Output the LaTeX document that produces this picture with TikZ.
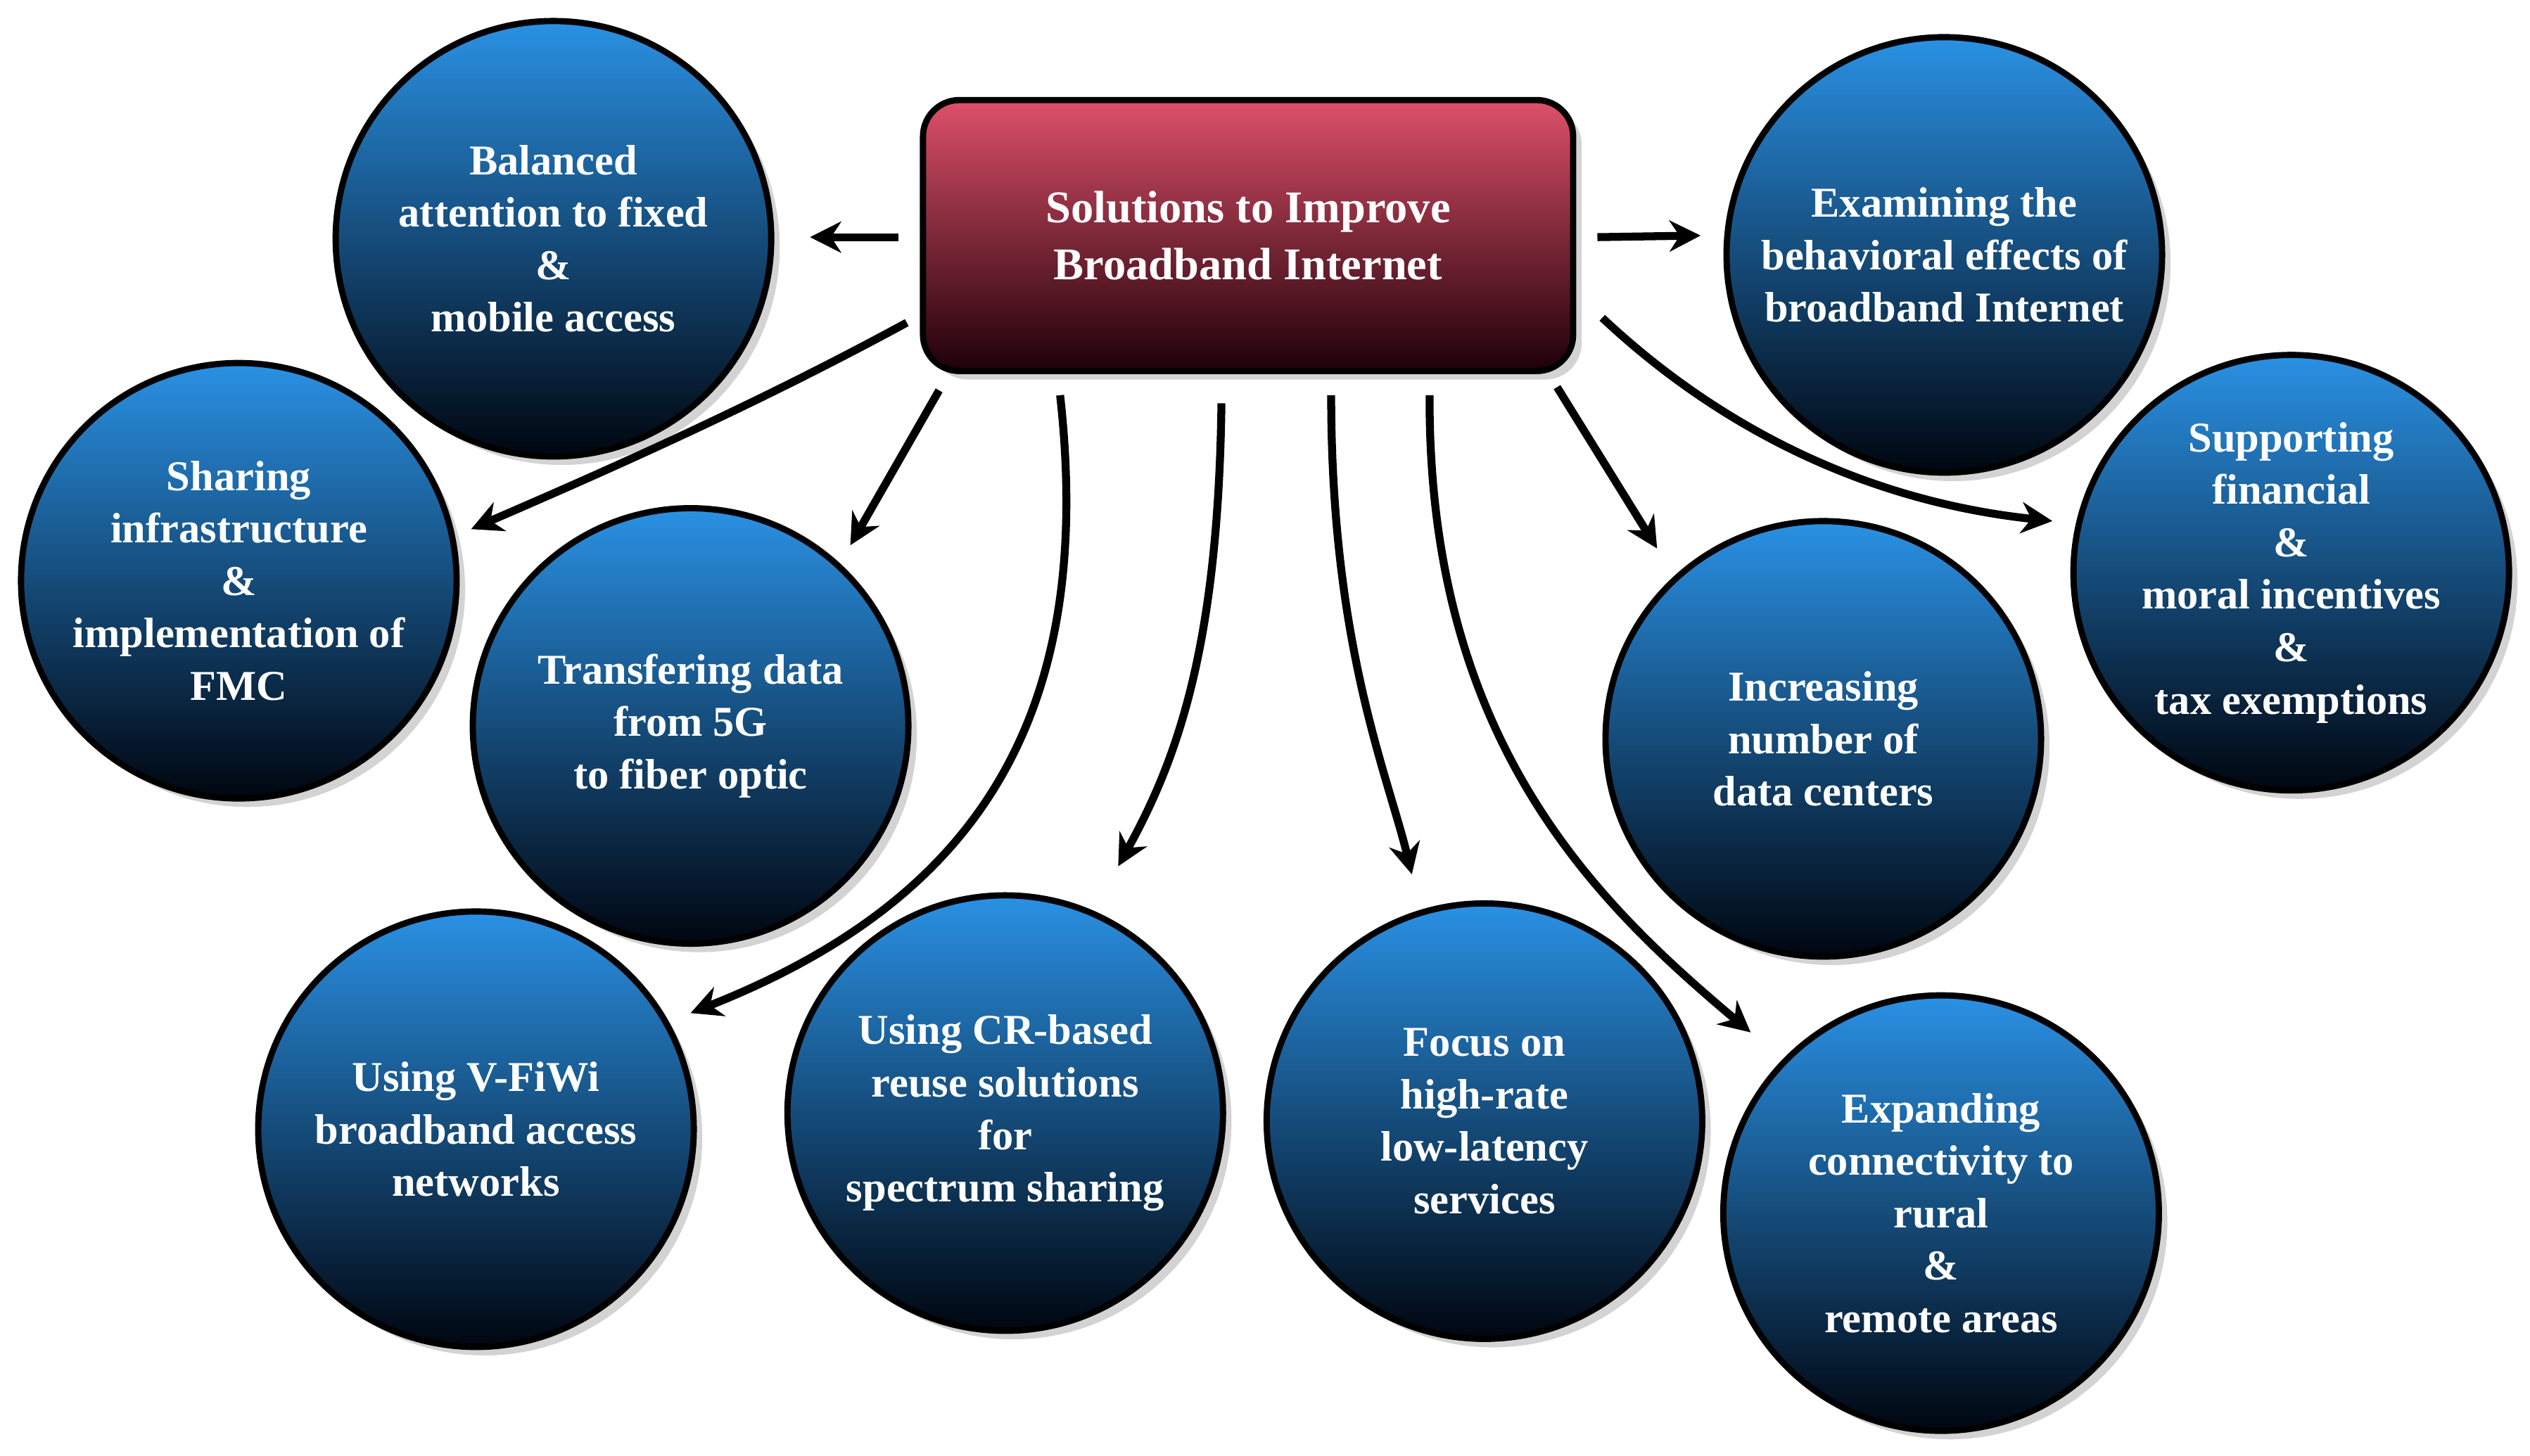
\documentclass[tikz,border=0pt]{standalone}
\usepackage{fontspec}
\setmainfont{Liberation Serif}
\usetikzlibrary{shadows,arrows.meta}
\begin{document}
\begin{tikzpicture}[x=0.02cm,y=-0.02cm,
 bub/.style={circle,minimum size=5.4cm,draw=black,line width=2.2pt,top color={rgb,255:red,42;green,145;blue,228},bottom color={rgb,255:red,0;green,6;blue,16},drop shadow={shadow xshift=3pt,shadow yshift=-3pt,opacity=0.35},text=white,font=\bfseries\fontsize{15}{18.5}\selectfont,align=center,inner sep=0pt},
 hub/.style={rounded corners=0.45cm,draw=black,line width=2.2pt,top color={rgb,255:red,222;green,80;blue,106},bottom color={rgb,255:red,30;green,0;blue,8},drop shadow={shadow xshift=3pt,shadow yshift=-3pt,opacity=0.35},text=white,font=\bfseries\fontsize{16}{20}\selectfont,align=center,minimum width=8.06cm,minimum height=3.36cm},
 arr/.style={line width=2.8pt,-{Stealth[length=11pt,width=11pt]}}]
\useasboundingbox (0,0) rectangle (1568,902.2);
\node[hub] (h) at (773.5,146) {Solutions to Improve\\Broadband Internet};
\node[bub] (b1) at (343,148) {Balanced\\attention to fixed\\\&\\mobile access};
\node[bub] (b2) at (148,360) {Sharing\\infrastructure\\\&\\implementation of\\FMC};
\node[bub] (b3) at (428,450) {Transfering data\\from 5G\\to fiber optic};
\node[bub] (b4) at (295,700) {Using V-FiWi\\broadband access\\networks};
\node[bub] (b5) at (623,690) {Using CR-based\\reuse solutions\\for\\spectrum sharing};
\node[bub] (b6) at (920,695) {Focus on\\high-rate\\low-latency\\services};
\node[bub] (b7) at (1203,752) {Expanding\\connectivity to\\rural\\\&\\remote areas};
\node[bub] (b8) at (1130,458) {Increasing\\number of\\data centers};
\node[bub] (b9) at (1420,355) {Supporting\\financial\\\&\\moral incentives\\\&\\tax exemptions};
\node[bub] (b10) at (1205,158) {Examining the\\behavioral effects of\\broadband Internet};
\coordinate (s1) at (557,147); \coordinate (e1) at (502,147);
\coordinate (s10) at (990,147); \coordinate (e10) at (1054,146);
\coordinate (s2) at (562,200); \coordinate (e2) at (292,328);
\coordinate (s3) at (582,242); \coordinate (e3) at (527,338);
\coordinate (s4) at (657,245); \coordinate (e4) at (428,628);
\coordinate (s5) at (757,250); \coordinate (e5) at (693,537);
\coordinate (s6) at (825,245); \coordinate (e6) at (875,542);
\coordinate (s7) at (886,245); \coordinate (e7) at (1085,640);
\coordinate (s8) at (965,240); \coordinate (e8) at (1027,340);
\coordinate (s9) at (993,197); \coordinate (e9) at (1272,323);
\draw[arr] (s1) -- (e1);
\draw[arr] (s10) -- (e10);
\draw[arr] (s2) .. controls (470,250) and (380,290) .. (e2);
\draw[arr] (s3) -- (e3);
\draw[arr] (s4) .. controls (680,450) and (600,560) .. (e4);
\draw[arr] (s5) .. controls (755,400) and (730,470) .. (e5);
\draw[arr] (s6) .. controls (825,400) and (860,480) .. (e6);
\draw[arr] (s7) .. controls (885,460) and (990,560) .. (e7);
\draw[arr] (s8) -- (e8);
\draw[arr] (s9) .. controls (1060,260) and (1150,310) .. (e9);
\end{tikzpicture}
\end{document}
